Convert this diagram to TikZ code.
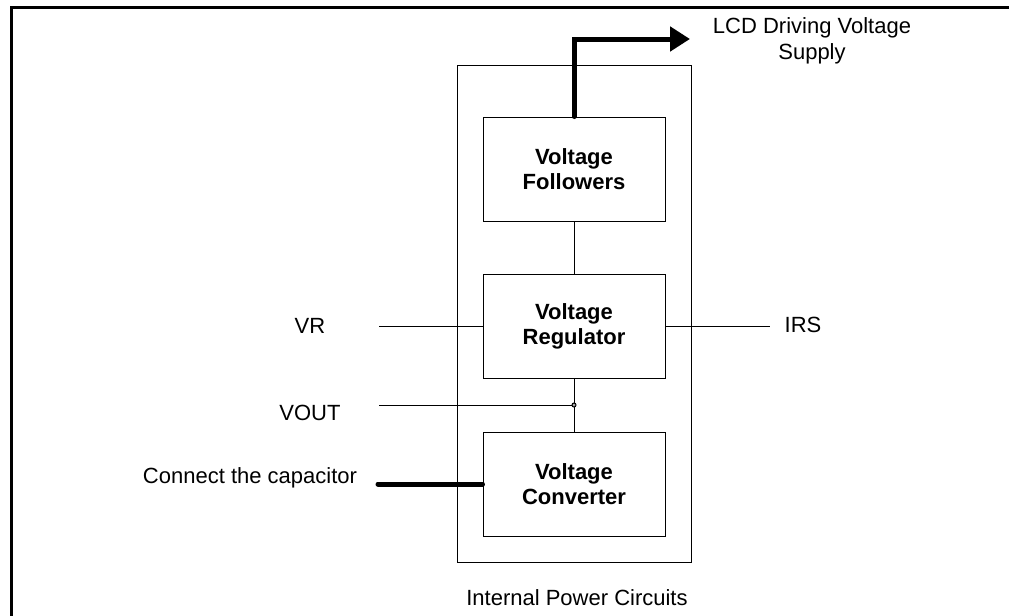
\documentclass[tikz,border=0pt]{standalone}
\usepackage{fontspec}
\setmainfont{Liberation Sans}
\usetikzlibrary{arrows.meta}

\begin{document}
\begin{tikzpicture}[x=0.5pt,y=-0.5pt,
  block/.style={draw,line width=0.5pt,minimum width=91pt,minimum height=52pt,
    inner sep=0pt,align=center,font=\fontsize{11}{12.5}\selectfont\bfseries},
  lbl/.style={inner sep=0pt,font=\fontsize{11}{13}\selectfont},
  wire/.style={line width=0.5pt},
  bus/.style={line width=2.5pt,line cap=round}]
\useasboundingbox (0,0) rectangle (1009,616);
% Frame
\draw[line width=1.5pt] (11,616) -- (11,7) -- (1009,7);

% Internal power circuits
\node[draw,line width=0.5pt,minimum width=117pt,minimum height=248.5pt,inner sep=0pt] (ipc) at (574,313.5) {};
\node[block] (fol) at (574,169) {Voltage\\Followers};
\node[block] (reg) at (574,326) {Voltage\\Regulator};
\node[block] (conv) at (574,484) {Voltage\\Converter};
\node[lbl,anchor=base] (ipclbl) at (577,605) {Internal Power Circuits};

% Outside labels
\node[lbl,anchor=base] (vr) at (310,333) {VR};
\node[lbl,anchor=base] (vout) at (310,420) {VOUT};
\node[lbl,anchor=base] (cap) at (250,483) {Connect the capacitor};
\node[lbl,anchor=base] (irs) at (803,332) {IRS};
\node[lbl,anchor=north,align=center] (lcd) at (812,17) {LCD Driving Voltage\\Supply};

\coordinate (vrin) at (379,326);
\coordinate (voutin) at (379,405);
\coordinate (jn) at (574,405);
\coordinate (irsout) at (770,326);
\coordinate (capin) at (378,484);
\coordinate (lcdout) at (690,39);

% Connections
\draw[wire] (fol) -- (reg);
\draw[wire] (reg) -- (conv);
\draw[wire] (vrin) -- (reg.west);
\draw[wire] (reg.east) -- (irsout);
\draw[wire] (voutin) -- (jn);
\draw[wire,fill=gray!70] (jn) circle (2);
\draw[bus] (capin) -- (conv.west);
\draw[bus,-{Triangle[length=10pt,width=12pt]}] (fol.north) |- (lcdout);

\end{tikzpicture}
\end{document}
